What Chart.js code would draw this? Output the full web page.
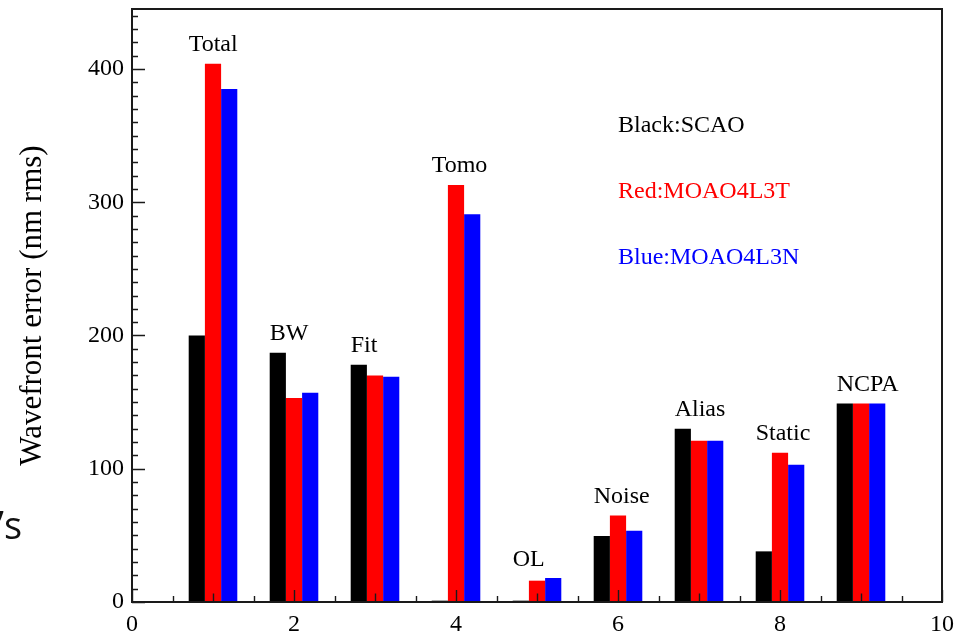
<!DOCTYPE html>
<html>
<head>
<meta charset="utf-8">
<script src="https://cdn.jsdelivr.net/npm/chart.js@4/dist/chart.umd.min.js"></script>
<style>
  html, body { margin: 0; padding: 0; background: #fff; }
  #wrap { position: relative; width: 977px; height: 635px; }
</style>
</head>
<body>
<div id="wrap"><canvas id="c" width="977" height="635"></canvas></div>
<script>
// Error-budget terms, one group per term, placed at x = 1..9
const groupX = [1, 2, 3, 4, 5, 6, 7, 8, 9];
const groupNames = ['Total', 'BW', 'Fit', 'Tomo', 'OL', 'Noise', 'Alias', 'Static', 'NCPA'];

// Wavefront error (nm rms) per system
const scao     = [200, 187, 178, 1, 1, 49.5, 130, 38, 149];
const moao4l3t = [404, 153, 170, 313, 16, 65, 121, 112, 149];
const moao4l3n = [385, 157, 169, 291, 18, 53.5, 121, 103, 149];

const seriesNames = ['Black:SCAO', 'Red:MOAO4L3T', 'Blue:MOAO4L3N'];
const seriesColors = ['#000000', '#ff0000', '#0000ff'];

const xTicks = [0, 2, 4, 6, 8, 10];
const yTicks = [0, 100, 200, 300, 400];
const yTitle = 'Wavefront error (nm rms)';

const SERIF = '"Liberation Serif", "Times New Roman", serif';

function toPoints(vals) {
  return groupX.map((x, i) => ({ x: x, y: vals[i] }));
}

// Frame, inward tick marks, term names and the colour key
const decorations = {
  id: 'decorations',
  afterDatasetsDraw(chart) {
    const ctx = chart.ctx;
    const a = chart.chartArea;
    const xs = chart.scales.x;
    const ys = chart.scales.y;
    ctx.save();

    // inward ticks
    ctx.strokeStyle = '#1a1a1a';
    ctx.lineWidth = 1.4;
    ctx.beginPath();
    for (let v = ys.min; v <= ys.max; v += 10) {
      const py = Math.round(ys.getPixelForValue(v)) + 0.5;
      const len = v % 100 === 0 ? 13 : 6;
      ctx.moveTo(a.left, py);
      ctx.lineTo(a.left + len, py);
    }
    for (let v = xs.min; v <= xs.max + 1e-9; v += 0.5) {
      const px = Math.round(xs.getPixelForValue(v)) + 0.5;
      const len = v % 2 === 0 ? 12 : (v % 1 === 0 ? 8.5 : 6);
      ctx.moveTo(px, a.bottom);
      ctx.lineTo(px, a.bottom - len);
    }
    ctx.stroke();

    // frame
    ctx.strokeStyle = '#1a1a1a';
    ctx.lineWidth = 2;
    ctx.strokeRect(a.left, a.top, a.right - a.left, a.bottom - a.top);

    // term names, starting at the left edge of each group's first bar
    ctx.fillStyle = '#000';
    ctx.font = '24px ' + SERIF;
    ctx.textAlign = 'left';
    ctx.textBaseline = 'alphabetic';
    const meta0 = chart.getDatasetMeta(0);
    groupNames.forEach((name, i) => {
      const bar = meta0.data[i];
      const left = bar.x - bar.width / 2;
      const top = Math.max(scao[i], moao4l3t[i], moao4l3n[i]);
      ctx.fillText(name, left, ys.getPixelForValue(top) - 12.5);
    });

    // colour key
    seriesNames.forEach((name, i) => {
      ctx.fillStyle = seriesColors[i];
      ctx.fillText(name, 618, 131.5 + i * 66.3);
    });
    ctx.restore();
  },
  afterDraw(chart) {
    // clipped word from the neighbouring slide text
    const ctx = chart.ctx;
    ctx.save();
    ctx.fillStyle = '#111';
    ctx.font = '38px "Open Sans", sans-serif';
    ctx.textAlign = 'right';
    ctx.textBaseline = 'alphabetic';
    ctx.fillText('\u2019s', 22, 539);
    ctx.restore();
  }
};

new Chart(document.getElementById('c'), {
  type: 'bar',
  data: {
    datasets: [
      { label: seriesNames[0], data: toPoints(scao),     backgroundColor: seriesColors[0] },
      { label: seriesNames[1], data: toPoints(moao4l3t), backgroundColor: seriesColors[1] },
      { label: seriesNames[2], data: toPoints(moao4l3n), backgroundColor: seriesColors[2] }
    ]
  },
  options: {
    responsive: false,
    animation: false,
    devicePixelRatio: 1,
    layout: { padding: { left: 0, top: 9, right: 35, bottom: 0 } },
    datasets: {
      bar: { categoryPercentage: 0.6, barPercentage: 1.0, borderWidth: 0 }
    },
    plugins: {
      legend: { display: false },
      tooltip: { enabled: false }
    },
    scales: {
      x: {
        type: 'linear',
        position: 'bottom',
        offset: false,
        min: 0,
        max: 10,
        grid: { display: false, drawTicks: false, offset: false },
        border: { display: false },
        ticks: {
          color: '#000',
          font: { family: SERIF, size: 24 },
          padding: 8,
          maxRotation: 0,
          autoSkip: false
        },
        afterBuildTicks(s) { s.ticks = xTicks.map(v => ({ value: v })); },
        afterFit(s) { s.height = 33; s.paddingLeft = 0; s.paddingRight = 0; }
      },
      y: {
        type: 'linear',
        position: 'left',
        min: 0,
        max: 445,
        grid: { display: false, drawTicks: false },
        border: { display: false },
        ticks: {
          color: '#000',
          font: { family: SERIF, size: 24 },
          padding: 8
        },
        title: {
          display: true,
          text: yTitle,
          color: '#000',
          font: { family: SERIF, size: 31 },
          padding: { top: 14, bottom: 0 }
        },
        afterBuildTicks(s) { s.ticks = yTicks.map(v => ({ value: v })); },
        afterFit(s) { s.width = 132; s.paddingTop = 0; s.paddingBottom = 0; }
      }
    }
  },
  plugins: [decorations]
});
</script>
</body>
</html>
